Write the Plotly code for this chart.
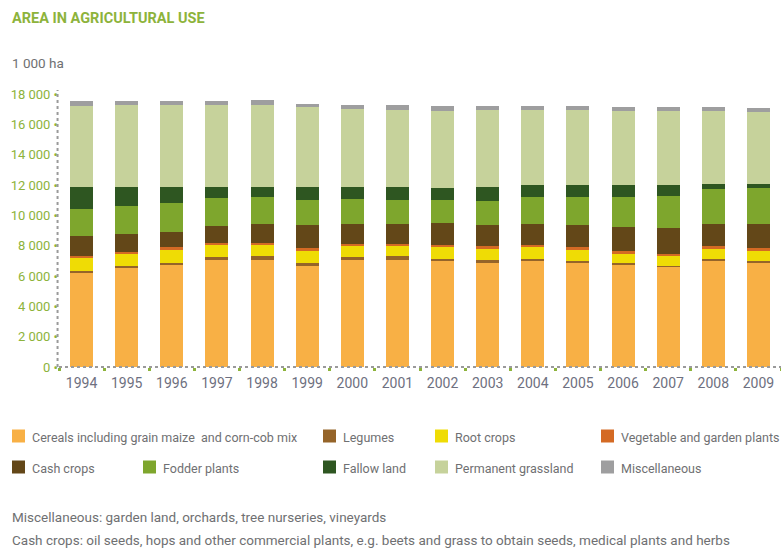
import plotly.graph_objects as go

# ---------------- data (1 000 ha) ----------------
years = ["1994", "1995", "1996", "1997", "1998", "1999", "2000", "2001",
         "2002", "2003", "2004", "2005", "2006", "2007", "2008", "2009"]

cereals = [6210, 6540, 6730, 7040, 7060, 6670, 7040, 7040, 6980, 6870, 6980, 6840, 6710, 6600, 7040, 6910]
legumes = [150, 130, 140, 200, 270, 200, 180, 250, 170, 170, 170, 180, 160, 70, 70, 90]
root_crops = [840, 840, 880, 810, 720, 810, 770, 740, 770, 770, 770, 730, 610, 680, 680, 660]
vegetable = [110, 100, 130, 120, 140, 150, 130, 90, 130, 160, 130, 130, 140, 110, 180, 170]
cash_crops = [1340, 1150, 1010, 1120, 1210, 1520, 1280, 1280, 1410, 1360, 1350, 1450, 1600, 1700, 1430, 1570]
fodder = [1780, 1870, 1940, 1850, 1820, 1650, 1690, 1600, 1540, 1610, 1800, 1850, 1960, 2110, 2310, 2370]
fallow = [1450, 1250, 1050, 740, 660, 880, 790, 880, 820, 940, 770, 790, 790, 700, 330, 270]
grassland = [5350, 5390, 5390, 5390, 5420, 5240, 5130, 5060, 5060, 5060, 4970, 4970, 4910, 4910, 4840, 4770]
misc = [310, 270, 270, 270, 300, 220, 290, 360, 350, 290, 290, 290, 280, 280, 280, 270]

y_ticks = [0, 2000, 4000, 6000, 8000, 10000, 12000, 14000, 16000, 18000]
y_tick_labels = ["0", "2 000", "4 000", "6 000", "8 000", "10 000", "12 000", "14 000", "16 000", "18 000"]

series_names = ["Cereals including grain maize  and corn-cob mix", "Legumes", "Root crops",
                "Vegetable and garden plants", "Cash crops", "Fodder plants", "Fallow land",
                "Permanent grassland", "Miscellaneous"]
series_values = [cereals, legumes, root_crops, vegetable, cash_crops, fodder, fallow, grassland, misc]

# ---------------- style ----------------
colors = ["#F8B045", "#956429", "#EFDC05", "#D46A24", "#634718",
          "#7EA62D", "#2E5621", "#C6D29B", "#9E9E9F"]
GREEN = "#8DB33B"
GRAY = "#6F7072"
FONT = "Roboto, Liberation Sans, sans-serif"

W, H = 781, 549
L, R, T, B = 59, 0, 90, 182
PW, PH = W - L - R, H - T - B


def px_x(p):
    return (p - L) / PW


def px_y(p):
    return (H - B - p) / PH


fig = go.Figure()
for name, vals, col in zip(series_names, series_values, colors):
    fig.add_trace(go.Bar(x=years, y=vals, name=name, marker=dict(color=col, line=dict(width=0)),
                         showlegend=False))

fig.update_layout(
    width=W, height=H,
    margin=dict(l=L, r=R, t=T, b=B),
    plot_bgcolor="white", paper_bgcolor="white",
    barmode="stack", bargap=0.49,
    font=dict(family=FONT, color=GRAY, size=13),
)
fig.update_xaxes(type="category", range=[-0.5, 15.5], showgrid=False, showline=False, zeroline=False,
                 tickson="boundaries", ticks="outside", ticklen=3, tickwidth=3, tickcolor=GREEN,
                 ticklabelstandoff=6,
                 tickangle=0, tickfont=dict(family=FONT, color="#6E7080", size=14))
fig.update_yaxes(range=[0, 18260], showgrid=False, showline=False, zeroline=False,
                 tickvals=y_ticks, ticktext=[t + " \u2022" for t in y_tick_labels],
                 tickfont=dict(family=FONT, color=GREEN, size=13), ticks="")

# dotted axis lines
fig.add_shape(type="line", xref="paper", yref="paper", x0=0, x1=1, y0=0, y1=0,
              line=dict(color="#9A9A9A", width=2, dash="dot"), layer="above")
fig.add_shape(type="line", xref="paper", yref="paper", x0=-0.002, x1=-0.002, y0=0, y1=1.0,
              line=dict(color="#9A9A9A", width=2, dash="dot"), layer="above")

# title and unit
fig.add_annotation(text="<b>AREA IN AGRICULTURAL USE</b>", xref="paper", yref="paper",
                   x=px_x(10), y=px_y(18), xanchor="left", yanchor="middle", showarrow=False,
                   font=dict(family=FONT, color=GREEN, size=14.5))
fig.add_annotation(text="1 000 ha", xref="paper", yref="paper",
                   x=px_x(10), y=px_y(63), xanchor="left", yanchor="middle", showarrow=False,
                   font=dict(family=FONT, color=GRAY, size=13.5))

# manual legend (pixel positions of square left edge, row centre)
legend_pos = [(12, 436), (323, 436), (435, 436), (601, 436),
              (12, 467), (143, 467), (323, 467), (435, 467), (601, 467)]
SQ = 13
for idx, (lx, ly) in enumerate(legend_pos):
    fig.add_shape(type="rect", xref="paper", yref="paper",
                  x0=px_x(lx), x1=px_x(lx + SQ), y0=px_y(ly + SQ / 2), y1=px_y(ly - SQ / 2),
                  fillcolor=colors[idx], line=dict(width=0))
    fig.add_annotation(text=series_names[idx], xref="paper", yref="paper",
                       x=px_x(lx + SQ + 5), y=px_y(ly + 1), xanchor="left", yanchor="middle",
                       showarrow=False, font=dict(family=FONT, color=GRAY, size=12.5))

# footnotes
notes = ["Miscellaneous: garden land, orchards, tree nurseries, vineyards",
         "Cash crops: oil seeds, hops and other commercial plants, e.g. beets and grass to obtain seeds, medical plants and herbs"]
for note, ny in zip(notes, [517, 540]):
    fig.add_annotation(text=note, xref="paper", yref="paper", x=px_x(10), y=px_y(ny),
                       xanchor="left", yanchor="middle", showarrow=False,
                       font=dict(family=FONT, color=GRAY, size=13.5))

fig.write_html("out.html", config={"displayModeBar": False},
               post_script="document.body.style.margin='0px';document.body.style.overflow='hidden';")
